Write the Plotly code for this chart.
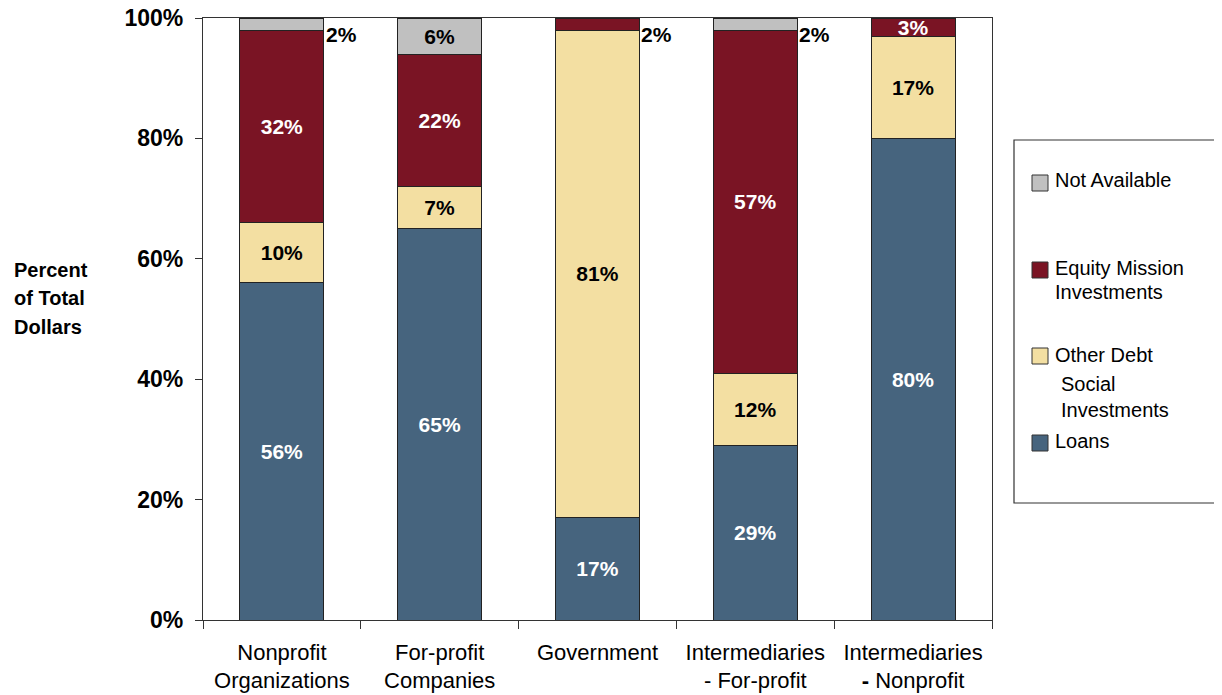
import plotly.graph_objects as go

categories = ["Nonprofit<br>Organizations", "For-profit<br>Companies", "Government",
              "Intermediaries<br>- For-profit", "Intermediaries<br><b>-</b> Nonprofit"]
loans = [56, 65, 17, 29, 80]
other_debt = [10, 7, 81, 12, 17]
equity = [32, 22, 2, 57, 3]
not_available = [2, 6, 0, 2, 0]
tick_vals = [0, 20, 40, 60, 80, 100]
tick_text = ["0%", "20%", "40%", "60%", "80%", "100%"]

series = [
    ("Loans", loans, "#46647E", "white"),
    ("Other Debt Social Investments", other_debt, "#F3DFA2", "black"),
    ("Equity Mission Investments", equity, "#7A1424", "white"),
    ("Not Available", not_available, "#C0C0C0", "black"),
]

FONT = "Liberation Sans, Arial, sans-serif"
OFF = 8  # page body margin
W, H = 1222 - OFF, 695 - OFF
PL, PR, PT, PB = 203, 992, 18, 620  # plot area in page pixels

fig = go.Figure()
for name, vals, color, tcolor in series:
    texts = [f"{v}%" if v >= 3 else "" for v in vals]
    fig.add_trace(go.Bar(
        x=categories, y=vals, name=name,
        marker=dict(color=color, line=dict(color="#222222", width=1)),
        text=texts, textposition="inside", constraintext="none", textangle=0,
        insidetextanchor="middle",
        textfont=dict(family=FONT, size=21, color=tcolor, weight="bold"),
        showlegend=False, hoverinfo="skip",
    ))

# small outside labels for 2% segments
for i in range(len(categories)):
    top_small = None
    if not_available[i] and not_available[i] < 3:
        top_small = not_available[i]
    elif not_available[i] == 0 and equity[i] < 3:
        top_small = equity[i]
    if top_small:
        fig.add_annotation(x=i + 0.265, y=97.2, xref="x", yref="y", text=f"<b>{top_small}%</b>",
                           showarrow=False, xanchor="left", yanchor="middle",
                           font=dict(family=FONT, size=21, color="black"))

fig.update_layout(
    width=W, height=H, barmode="stack", bargap=0.468,
    plot_bgcolor="white", paper_bgcolor="white",
    margin=dict(l=PL - OFF, r=W - (PR - OFF), t=PT - OFF, b=H - (PB - OFF), autoexpand=False),
    font=dict(family=FONT, size=21, color="black"),
)
fig.update_xaxes(
    type="category", tickson="boundaries", ticks="outside", ticklen=8, tickcolor="#333",
    showline=True, linecolor="#333", linewidth=1.2, mirror=True, showgrid=False,
    tickfont=dict(family=FONT, size=22, color="black"), ticklabelstandoff=12,
    ticklabeloverflow="allow", automargin=False,
)
fig.update_yaxes(
    range=[0, 100], tickvals=tick_vals, ticktext=tick_text, ticks="outside", ticklen=7,
    tickcolor="#333", showline=True, linecolor="#333", linewidth=1.2, mirror=True,
    showgrid=False, zeroline=False, ticklabelstandoff=7, ticklabeloverflow="allow",
    automargin=False,
    tickfont=dict(family=FONT, size=23, color="black", weight="bold"),
)


def px_x(px):
    return (px - PL) / (PR - PL)


def px_y(py):
    return (PB - py) / (PB - PT)


# y axis title (one annotation per line)
for txt, yc in [("Percent", 270), ("of Total", 298), ("Dollars", 327)]:
    fig.add_annotation(x=px_x(12), y=px_y(yc), xref="paper", yref="paper", text=f"<b>{txt}</b>",
                       showarrow=False, align="left", xanchor="left", yanchor="middle",
                       font=dict(family=FONT, size=20, color="black"))

# custom legend
fig.add_shape(type="rect", xref="paper", yref="paper", x0=px_x(1014), x1=px_x(1230),
              y0=px_y(503), y1=px_y(140), line=dict(color="#333", width=1.2), fillcolor="white")
legend_items = [
    ("#C0C0C0", 183, [("Not Available", 1055, 179)]),
    ("#7A1424", 270, [("Equity Mission", 1055, 267), ("Investments", 1055, 291)]),
    ("#F3DFA2", 356, [("Other Debt", 1055, 354), ("Social", 1061, 383), ("Investments", 1061, 409)]),
    ("#46647E", 443, [("Loans", 1055, 440)]),
]
for color, sq, lines in legend_items:
    fig.add_shape(type="rect", xref="paper", yref="paper", x0=px_x(1032), x1=px_x(1048),
                  y0=px_y(sq + 8), y1=px_y(sq - 8), line=dict(color="#333", width=1), fillcolor=color)
    for txt, xl, yc in lines:
        fig.add_annotation(x=px_x(xl), y=px_y(yc + 1), xref="paper", yref="paper", text=txt,
                           showarrow=False, align="left", xanchor="left", yanchor="middle",
                           xshift=-2, font=dict(family=FONT, size=20, color="black"))

fig.write_html("out.html")
